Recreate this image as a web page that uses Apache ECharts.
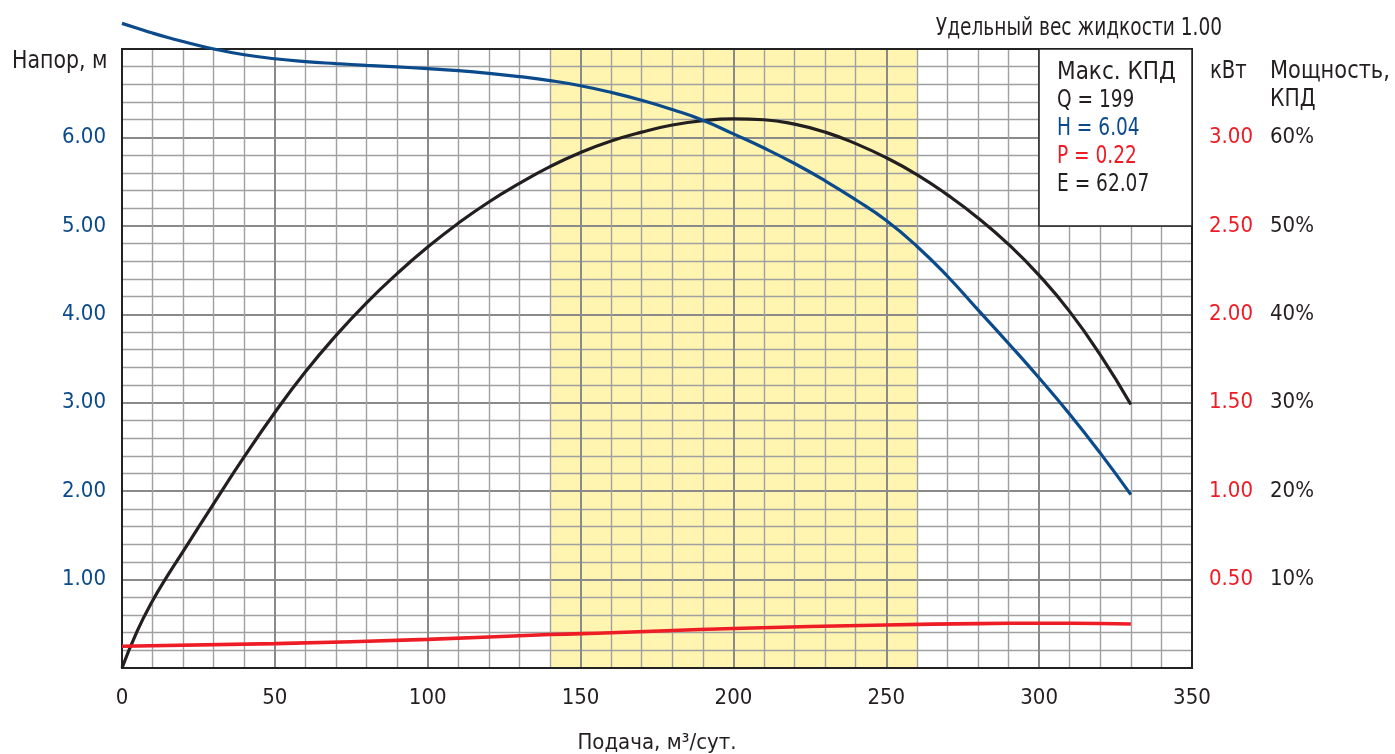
<!DOCTYPE html>
<html>
<head>
<meta charset="utf-8">
<script src="https://cdn.jsdelivr.net/npm/echarts@6/dist/echarts.min.js"></script>
<style>
html,body{margin:0;padding:0;background:#fff;}
#c{width:1395px;height:754px;}
</style>
</head>
<body>
<div id="c"></div>
<script>
// ---- data ----
var flowQ = [0,5,10,15,20,30,40,50,60,70,80,90,100,110,120,130,140,150,160,170,180,190,200,210,220,230,240,250,260,270,280,290,300,310,320,330];
var headM = [7.29,7.235,7.18,7.13,7.085,7.0,6.935,6.89,6.858,6.835,6.815,6.797,6.778,6.755,6.725,6.688,6.643,6.585,6.51,6.42,6.315,6.195,6.04,5.88,5.705,5.51,5.295,5.06,4.77,4.43,4.05,3.67,3.28,2.87,2.43,1.96];
var effPct = [0,4.2,7.6,10.5,13.2,18.6,23.9,28.9,33.5,37.6,41.3,44.6,47.6,50.3,52.7,54.8,56.7,58.3,59.6,60.6,61.4,61.9,62.1,62.0,61.5,60.6,59.3,57.7,55.8,53.5,50.9,47.9,44.4,40.3,35.4,29.8];
var powerQ = [0,50,100,140,160,200,250,280,300,320,330];
var powerKw = [0.123,0.138,0.162,0.189,0.199,0.223,0.243,0.251,0.253,0.252,0.249];
var workRange = [140,260];
var infoLines = ['Макс. КПД','Q = 199','H = 6.04','P = 0.22','E = 62.07'];
var specificGravity = 'Удельный вес жидкости 1.00';

var FONT = '"Liberation Sans Narrow","DejaVu Sans Condensed","Roboto Condensed",sans-serif';
var TXT = '#231f20', BLUE = '#0b4a8b', RED = '#ee1c25';

function pairs(xs, ys){ return xs.map(function(x,i){ return [x, ys[i]]; }); }

var chart = echarts.init(document.getElementById('c'));
var gl = 122, gr = 1192, gt = 49, gb = 668;
function txt(x, y, s, color, sx, align){
  return {type: 'text', z: 51, x: x, y: y, scaleX: sx, style: {text: s, fill: color || TXT, font: '24px ' + FONT, textAlign: align || 'left', textVerticalAlign: 'middle'}};
}
chart.setOption({
  animation: false,
  textStyle: {fontFamily: FONT},
  grid: {left: gl, right: 1395 - gr, top: gt, bottom: 754 - gb, show: true, borderColor: '#222', borderWidth: 2, backgroundColor: 'transparent', z: 3, outerBoundsMode: 'none', containLabel: false},
  xAxis: {
    type: 'value', min: 0, max: 350, interval: 50, z: 1.5,
    axisLine: {show: false}, axisTick: {show: false},
    axisLabel: {color: TXT, fontSize: 22, fontFamily: FONT, margin: 19},
    splitLine: {show: true, lineStyle: {color: '#8a8a8a', width: 2}},
    minorTick: {show: false, splitNumber: 5},
    minorSplitLine: {show: true, lineStyle: {color: '#a0a0a0', width: 1.4}},
    name: 'Подача, м³/сут.', nameLocation: 'middle', nameGap: 64,
    nameTextStyle: {color: TXT, fontSize: 22, fontFamily: FONT}
  },
  yAxis: [{
    type: 'value', min: 0, max: 7, interval: 1, position: 'left', z: 1.5,
    axisLine: {show: false}, axisTick: {show: false},
    axisLabel: {color: BLUE, fontSize: 22, fontFamily: FONT, margin: 16, padding: [0,0,6,0],
      formatter: function(v){ return (v <= 0 || v >= 7) ? '' : v.toFixed(2); }},
    splitLine: {show: true, lineStyle: {color: '#8a8a8a', width: 2}},
    minorTick: {show: false, splitNumber: 5},
    minorSplitLine: {show: true, lineStyle: {color: '#a0a0a0', width: 1.4}}
  }, {
    type: 'value', min: 0, max: 3.5, interval: 0.5, position: 'right', z: 1.5,
    axisLine: {show: false}, axisTick: {show: false}, splitLine: {show: false},
    axisLabel: {color: RED, fontSize: 22, fontFamily: FONT, margin: 17, padding: [0,0,6,0],
      formatter: function(v){ return (v <= 0 || v >= 3.5) ? '' : v.toFixed(2); }}
  }, {
    type: 'value', min: 0, max: 70, interval: 10, position: 'right', offset: 61, z: 1.5,
    axisLine: {show: false}, axisTick: {show: false}, splitLine: {show: false},
    axisLabel: {color: TXT, fontSize: 22, fontFamily: FONT, margin: 17, padding: [0,0,6,0],
      formatter: function(v){ return (v <= 0 || v >= 70) ? '' : v + '%'; }}
  }],
  series: [{
    type: 'line', data: [], z: 1, silent: true,
    markArea: {silent: true, z: 1, itemStyle: {color: '#fff5b0'}, data: [[{xAxis: workRange[0]}, {xAxis: workRange[1]}]]}
  }, {
    name: 'E', type: 'line', yAxisIndex: 2, smooth: 0.5, showSymbol: false, clip: false, z: 5,
    lineStyle: {color: TXT, width: 3.2}, data: pairs(flowQ, effPct)
  }, {
    name: 'H', type: 'line', yAxisIndex: 0, smooth: 0.5, showSymbol: false, clip: false, z: 5,
    lineStyle: {color: BLUE, width: 3.2}, data: pairs(flowQ, headM)
  }, {
    name: 'P', type: 'line', yAxisIndex: 1, smooth: 0.5, showSymbol: false, clip: false, z: 5,
    lineStyle: {color: RED, width: 3.6}, data: pairs(powerQ, powerKw)
  }],
  graphic: [
    {type: 'rect', z: 50, shape: {x: 1039, y: gt, width: gr - 1039, height: 177}, style: {fill: '#fff', stroke: '#222', lineWidth: 1.5}},
    txt(1057, 73, infoLines[0], TXT, 1.0),
    txt(1057, 101, infoLines[1], TXT, 0.86),
    txt(1057, 129, infoLines[2], BLUE, 0.86),
    txt(1057, 157, infoLines[3], RED, 0.86),
    txt(1057, 185, infoLines[4], TXT, 0.86),
    txt(12, 62, 'Напор, м', TXT, 0.95),
    txt(1210, 72, 'кВт', TXT, 0.91),
    txt(1270, 72, 'Мощность,', TXT, 0.97),
    txt(1270, 100, 'КПД', TXT, 0.94),
    txt(1222, 29, specificGravity, TXT, 0.86, 'right')
  ]
});
</script>
</body>
</html>
